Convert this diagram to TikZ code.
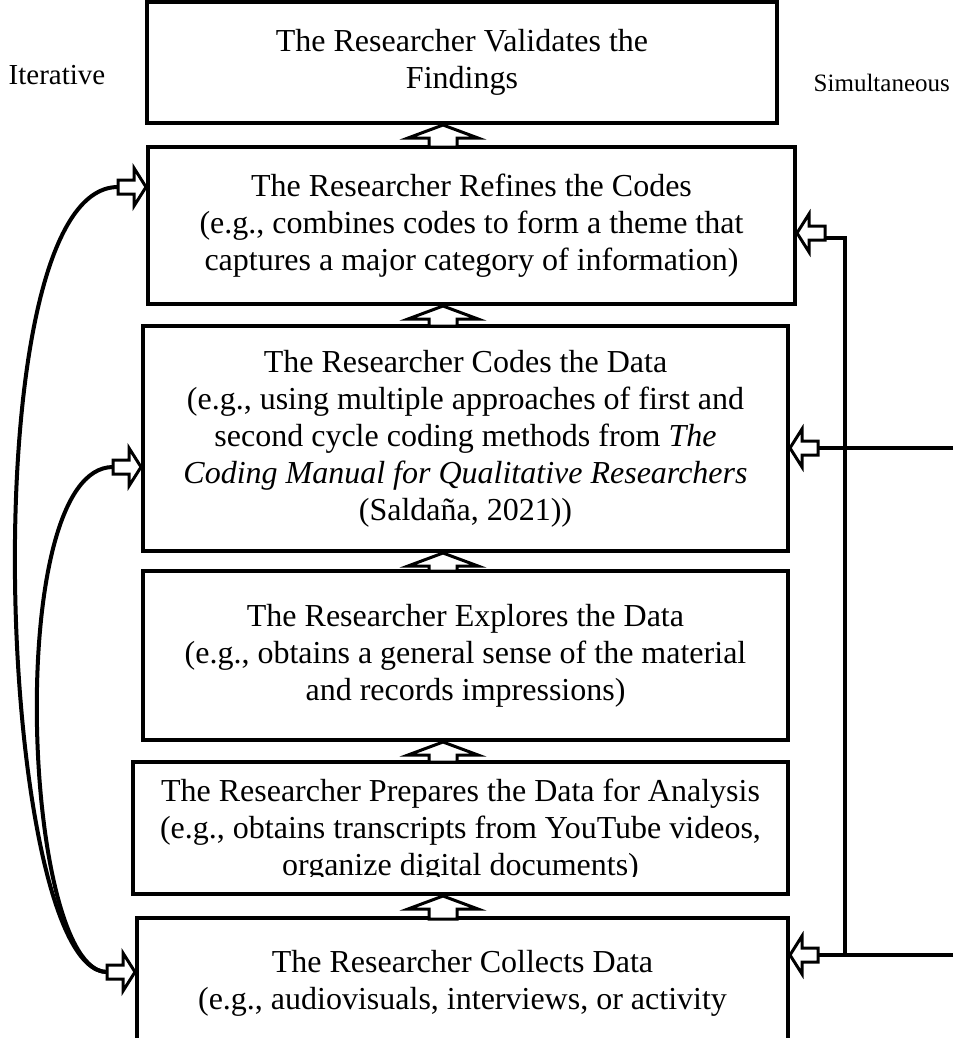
\documentclass[tikz,border=0pt]{standalone}
\usepackage{fontspec}
\setmainfont{Liberation Serif}
\usetikzlibrary{calc}

\tikzset{
  stage/.style={draw, line width=4pt, inner sep=0pt, align=center,
    font=\fontsize{32}{37}\selectfont},
  side/.style={inner sep=0pt, font=\fontsize{29}{34}\selectfont},
  link/.style={line width=4pt},
  % hollow block arrow, tip at the origin, pointing up
  pics/fatup/.style={code={
    \draw[line width=3pt, fill=white] (0,0) -- (35,-13) -- (14,-13) -- (14,-#1)
      -- (-14,-#1) -- (-14,-13) -- (-35,-13) -- cycle;}},
  % small hollow block arrow, tip at the origin, pointing right
  pics/fatright/.style={code={
    \draw[line width=3pt, fill=white] (0,0) -- (-12,19) -- (-12,7) -- (-#1,7)
      -- (-#1,-7) -- (-12,-7) -- (-12,-19) -- cycle;}},
}

\begin{document}
\begin{tikzpicture}[x=1pt,y=1pt]
  \useasboundingbox (0,0) rectangle (953,-1038);
  \clip (0,0) rectangle (953,-1038);

  % stages
  \node[stage, minimum width=630, minimum height=121] (validate) at (462,-62.5)
    {The Researcher Validates the\\Findings};
  \node[stage, minimum width=647, minimum height=157] (refine) at (471.5,-225.5)
    {The Researcher Refines the Codes\\(e.g., combines codes to form a theme that\\captures a major category of information)};
  \node[stage, minimum width=645, minimum height=225] (code) at (465.5,-438.5)
    {The Researcher Codes the Data\\(e.g., using multiple approaches of first and\\second cycle coding methods from \textit{The}\\\textit{Coding Manual for Qualitative Researchers}\\(Salda\~na, 2021))};
  \node[stage, minimum width=645, minimum height=169] (explore) at (465.5,-655.5)
    {The Researcher Explores the Data\\(e.g., obtains a general sense of the material\\and records impressions)};
  \node[stage, minimum width=655, minimum height=132] (prepare) at (460.5,-828) {};
  \begin{scope}
    \clip (133,-762) rectangle (788,-876);
    \node[stage, draw=none] (preparetext) at (460.5,-831)
      {The Researcher Prepares the Data for Analysis\\(e.g., obtains transcripts from YouTube videos,\\organize digital documents)};
  \end{scope}
  \node[stage, minimum width=651, minimum height=160] (collect) at (462.5,-998)
    {The Researcher Collects Data\\(e.g., audiovisuals, interviews, or activity\\ \mbox{}};

  \node[side] (iter) at (57,-75) {Iterative};
  \node[side, anchor=east, font=\fontsize{25}{30}\selectfont] (simul) at (950,-83) {Simultaneous};

  % arrow ends
  \coordinate (mid) at (443,0);
  \coordinate (refineout) at ($(refine.west)+(-28,38.5)$);
  \coordinate (codeout) at ($(code.west)+(-28,-28.5)$);
  \coordinate (collectout) at ($(collect.west)+(-28,26)$);
  \coordinate (refinein) at ($(refine.east)+(28,-7.5)$);
  \coordinate (codein) at ($(code.east)+(28,-9.5)$);
  \coordinate (collectin) at ($(collect.east)+(28,43)$);
  \coordinate (feedmid) at (953,-448);
  \coordinate (feedbot) at (953,-955);
  \coordinate (bus) at (845,-238);

  % iterative loops
  \draw[link] (refineout) .. controls +(-150,0) and +(-110,0) .. (collectout);
  \draw[link] (codeout) .. controls +(-110,0) and +(-85,0) .. (collectout);

  % simultaneous feeds
  \draw[link] (feedmid) -- (codein);
  \draw[link] (feedbot) -- (collectin);
  \draw[link] (feedbot -| bus) -- (bus) -- (bus -| refinein);

  % block arrows
  \pic at (validate.south -| mid) {fatup=22};
  \pic at (refine.south -| mid) {fatup=20};
  \pic at (code.south -| mid) {fatup=18};
  \pic at (explore.south -| mid) {fatup=20};
  \pic at (prepare.south -| mid) {fatup=23};
  \pic at ($(refine.west)+(0,38.5)$) {fatright=28};
  \pic at ($(code.west)+(0,-28.5)$) {fatright=28};
  \pic at ($(collect.west)+(0,26)$) {fatright=28};
  \pic[rotate=180] at ($(refine.east)+(0,-7.5)$) {fatright=28};
  \pic[rotate=180] at ($(code.east)+(0,-9.5)$) {fatright=28};
  \pic[rotate=180] at ($(collect.east)+(0,43)$) {fatright=28};
\end{tikzpicture}
\end{document}
